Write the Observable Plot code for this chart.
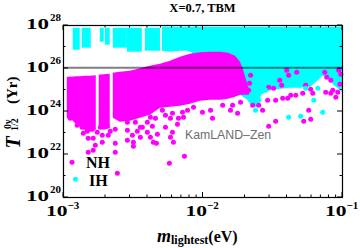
<!DOCTYPE html>
<html><head><meta charset="utf-8">
<script src="https://cdn.jsdelivr.net/npm/d3@7"></script>
<script src="https://cdn.jsdelivr.net/npm/@observablehq/plot@0.6"></script>
<style>html,body{margin:0;padding:0;background:#fff} svg{display:block}</style>
</head><body><div id="chart"></div>
<script>
// ---- values (log10 of m_lightest [eV] and of T_1/2 [yr]) ----
const title = "X=0.7, TBM";
const kamlandBound = 1.07e26;
const kamlandLabel = "KamLAND\u2013Zen";

// IH: separated columns of points on the left
const ihStripeLogM1 = [-2.930, -2.866, -2.736, -2.700, -2.643, -2.542, -2.413];
const ihStripeLogM2 = [-2.880, -2.801, -2.708, -2.665, -2.542, -2.435, -2.305];
const ihStripeLogTop = [27.874, 27.874, 27.874, 27.874, 27.874, 27.874, 27.874];
const ihStripeLogBottom = [26.851, 26.944, 27.223, 27.084, 26.944, 26.758, 26.805];

// IH: dense band (upper/lower envelope)
const ihBandLogM = [-2.291, -2.233, -2.162, -2.104, -2.075, -2.047, -1.731, -1.680, -1.644, -1.601, -1.580, -1.544, -1.501, -1.443, -1.371, -1.300, -1.228, -1.185, -1.142, -1.098, -1.062, -1.034, -1.0];
const ihBandLogTop = [27.921, 27.921, 27.921, 27.921, 27.921, 27.921, 27.921, 27.921, 27.921, 27.921, 27.921, 27.921, 27.921, 27.921, 27.921, 27.921, 27.921, 27.921, 27.921, 27.921, 27.921, 27.921, 27.921];
const ihBandLogBottom = [26.805, 26.758, 26.805, 26.805, 26.712, 24.758, 24.758, 24.526, 24.200, 24.200, 24.758, 24.898, 24.991, 25.037, 25.084, 25.084, 25.130, 25.363, 25.642, 25.549, 25.223, 25.084, 24.898];

// NH: dense band (null = empty column)
const nhBandLogM = [-2.973, -2.9375, -2.909, -2.880, -2.844, -2.808, -2.765, -2.752, -2.744, -2.708, -2.665, -2.650, -2.643, -2.593, -2.521, -2.449, -2.377, -2.305, -2.233, -2.162, -2.090, -2.018, -1.946, -1.874, -1.817, -1.767, -1.731, -1.709, -1.688, -1.666];
const nhBandLogTop = [25.595, 25.595, 25.619, 25.619, 25.642, 25.642, 25.665, null, 25.688, 25.712, 25.735, null, 25.781, 25.828, 25.875, 25.991, 26.107, 26.200, 26.340, 26.526, 26.665, 26.735, 26.758, 26.758, 26.712, 26.572, 26.293, 25.921, 25.456, 24.991];
const nhBandLogBottom = [23.689, 23.595, 23.409, 23.270, 23.130, 23.037, 23.130, null, 23.223, 23.130, 23.223, null, 23.689, 23.502, 23.549, 23.689, 23.828, 24.154, 24.200, 24.247, 24.340, 24.479, 24.526, 24.526, 24.572, 24.665, 24.758, 24.758, 24.758, 24.758];

// NH: scattered points
const nhDotLogM = [-2.952, -2.902, -2.866, -2.858, -2.830, -2.823, -2.794, -2.823, -2.787, -2.772,
  -2.787, -2.758, -2.736, -2.722, -2.722, -2.686, -2.679, -2.665, -2.629, -2.629,
  -2.629, -2.614, -2.542, -2.542, -2.542, -2.506, -2.499, -2.499, -2.485, -2.471,
  -2.449, -2.449, -2.435, -2.399, -2.399, -2.377, -2.377, -2.363, -2.356, -2.334,
  -2.327, -2.341, -2.291, -2.269, -2.269, -2.233, -2.233, -2.219, -2.219, -2.212,
  -2.183, -2.176, -2.147, -2.140, -2.111, -2.068, -2.004, -1.946, -1.932, -1.859,
  -1.803, -1.788, -1.752, -1.731, -2.241, -2.133,
  -1.673, -1.644, -1.601, -1.573, -1.537, -1.479, -1.429, -1.393, -1.371, -1.479,
  -1.529, -1.335, -1.285, -1.213, -1.242, -1.228, -1.278, -1.120, -1.084, -1.048,
  -1.034, -1.070, -1.400, -1.386, -1.328, -1.450, -1.436, -1.529, -1.494, -1.264,
  -1.228, -1.127, -1.113, -1.084, -1.027, -1.012, -1.019, -1.659, -1.666];
const nhDotLogT = [23.689, 23.363, 23.270, 22.991, 23.084, 22.758, 23.177, 22.107, 22.200, 22.433,
  22.758, 23.037, 23.270, 22.572, 22.898, 23.316, 22.898, 23.084, 23.177, 22.526,
  22.107, 21.130, 22.665, 23.130, 23.502, 22.898, 22.572, 22.386, 23.502, 23.084,
  23.270, 22.805, 23.270, 23.037, 23.502, 23.735, 22.805, 23.316, 22.572, 22.526,
  22.944, 23.689, 24.061, 23.270, 23.828, 23.689, 22.805, 23.921, 23.037, 22.572,
  23.409, 23.689, 23.968, 23.735, 24.061, 24.200, 23.968, 24.061, 23.689, 24.293,
  24.061, 24.293, 23.921, 24.433, 21.596, 21.921,
  24.991, 24.293, 24.293, 24.061, 24.526, 24.526, 24.619, 24.619, 24.758, 23.549,
  23.316, 24.758, 24.851, 24.851, 24.061, 23.642, 23.549, 24.898, 24.851, 24.665,
  24.898, 24.991, 25.921, 25.688, 25.828, 25.456, 25.223, 25.130, 25.084, 25.223,
  25.037, 25.828, 25.595, 25.456, 25.921, 25.735, 25.270, 25.688, 25.316];

// IH: scattered points
const ihDotLogM = [-1.386, -1.300, -1.206, -1.142, -1.601, -1.623, -1.551, -1.264, -1.177, -1.623];
const ihDotLogT = [23.735, 23.782, 24.526, 23.968, 24.526, 24.758, 24.991, 25.084, 25.084, 24.061];

// axes
const xTickExp = [-3, -2, -1];
const xMinorMult = [2, 3, 4, 5, 6, 7, 8, 9];
const yTickExp = [20, 22, 24, 26, 28];
const yMinorExp = [21, 23, 25, 27];
const legendLabels = ["NH", "IH"];

// ---- tables ----
const p = v => (v == null ? NaN : 10 ** v);
const ihStripes = ihStripeLogM1.map((m, i) => ({m1: p(m), m2: p(ihStripeLogM2[i]), top: p(ihStripeLogTop[i]), bot: p(ihStripeLogBottom[i])}));
const ihBand = ihBandLogM.map((m, i) => ({m: p(m), top: p(ihBandLogTop[i]), bot: p(ihBandLogBottom[i])}));
const nhBand = nhBandLogM.map((m, i) => ({m: p(m), top: p(nhBandLogTop[i]), bot: p(nhBandLogBottom[i])}));
const nhDots = nhDotLogM.map((m, i) => ({m: p(m), t: p(nhDotLogT[i])}));
const ihDots = ihDotLogM.map((m, i) => ({m: p(m), t: p(ihDotLogT[i])}));

const MAG = "#ff00ff", CYA = "#00ffff";
const W = 360, H = 248, mT = 25, mB = 51, mL = 63, mR = 18;

const chart = Plot.plot({
  width: W, height: H,
  marginTop: mT, marginBottom: mB, marginLeft: mL, marginRight: mR,
  x: {type: "log", domain: [1e-3, 1e-1], axis: null},
  y: {type: "log", domain: [1e20, 1e28], axis: null},
  style: {background: "white", overflow: "visible"},
  marks: [
    Plot.rect(ihStripes, {x1: "m1", x2: "m2", y1: "bot", y2: "top", fill: CYA}),
    Plot.areaY(ihBand, {x: "m", y1: "bot", y2: "top", fill: CYA}),
    Plot.areaY(nhBand, {x: "m", y1: "bot", y2: "top", fill: MAG}),
    Plot.dot(nhDots, {x: "m", y: "t", r: 2.5, fill: MAG}),
    Plot.dot(ihDots, {x: "m", y: "t", r: 2.5, fill: CYA}),
    Plot.ruleY([kamlandBound], {stroke: "black", strokeOpacity: 0.5, strokeWidth: 2}),
    Plot.frame({stroke: "black", strokeWidth: 1.2})
  ]
});
document.getElementById("chart").appendChild(chart);

// ---- ticks, labels, legend ----
const sx = chart.scale("x"), sy = chart.scale("y");
const svg = d3.select(chart);
const g = svg.append("g").attr("stroke", "black").attr("stroke-width", 1);
const x0 = mL, x1 = W - mR, y0 = mT, y1 = H - mB;
function tx(v, len) {
  const X = sx.apply(v);
  g.append("line").attr("x1", X).attr("x2", X).attr("y1", y1).attr("y2", y1 - len);
  g.append("line").attr("x1", X).attr("x2", X).attr("y1", y0).attr("y2", y0 + len);
}
function ty(v, len) {
  const Y = sy.apply(v);
  g.append("line").attr("y1", Y).attr("y2", Y).attr("x1", x0).attr("x2", x0 + len);
  g.append("line").attr("y1", Y).attr("y2", Y).attr("x1", x1).attr("x2", x1 - len);
}
xTickExp.forEach(e => tx(10 ** e, 5));
xTickExp.slice(0, -1).forEach(e => xMinorMult.forEach(k => tx(k * 10 ** e, 2.5)));
yTickExp.forEach(e => ty(10 ** e, 5));
yMinorExp.forEach(e => ty(10 ** e, 2.5));

const serif = "'Liberation Serif','Times New Roman',serif";
const t = svg.append("g").attr("font-family", serif).attr("font-weight", "bold")
  .attr("fill", "black").attr("text-anchor", "start");
const minus = n => (n < 0 ? "\u2212" + (-n) : String(n));
yTickExp.forEach(e => {
  const Y = sy.apply(10 ** e);
  t.append("text").attr("x", 26).attr("y", Y + 4.3).attr("font-size", 15)
    .attr("textLength", 23).attr("lengthAdjust", "spacingAndGlyphs").text("10");
  t.append("text").attr("x", 50).attr("y", Y - 3.8).attr("font-size", 11).text(minus(e));
});
xTickExp.forEach(e => {
  const X = sx.apply(10 ** e);
  t.append("text").attr("x", X - 17).attr("y", 215.5).attr("font-size", 15)
    .attr("textLength", 21.5).attr("lengthAdjust", "spacingAndGlyphs").text("10");
  t.append("text").attr("x", X + 4.5).attr("y", 209).attr("font-size", 11).text(minus(e));
});

// title
t.append("text").attr("x", (x0 + x1) / 2).attr("y", 11.7).attr("text-anchor", "middle")
  .attr("font-size", 12.5).text(title);

// x label
const xl = t.append("text").attr("x", 157).attr("y", 241.5);
xl.append("tspan").attr("font-style", "italic").attr("font-size", 18).text("m");
xl.append("tspan").attr("font-size", 12).attr("dy", 2.5).text("lightest");
xl.append("tspan").attr("font-size", 16).attr("dy", -2.5).text("(eV)");

// y label (rotated)
function rot(x, y, s, size, italic) {
  const el = t.append("text").attr("transform", `translate(${x},${y}) rotate(-90)`)
    .attr("font-size", size).text(s);
  if (italic) el.attr("font-style", "italic");
}
rot(20, 148.5, "T", 20, true);
rot(17.5, 131, "1/2", 10, false);
rot(11, 129, "0\u03bd", 10, false);
rot(16.5, 104, "(Yr)", 15, false);

// legend
svg.append("circle").attr("cx", 72).attr("cy", 162.3).attr("r", 2.5).attr("fill", MAG);
svg.append("circle").attr("cx", 75.5).attr("cy", 179.3).attr("r", 2.5).attr("fill", CYA);
t.append("text").attr("x", 86).attr("y", 167.5).attr("font-size", 16).text(legendLabels[0]);
t.append("text").attr("x", 89).attr("y", 185.5).attr("font-size", 16).text(legendLabels[1]);

// KamLAND-Zen label
svg.append("text").attr("x", 185).attr("y", 139).attr("text-anchor", "start")
  .attr("font-family", "'Liberation Sans',Arial,sans-serif")
  .attr("font-size", 12.3).attr("fill", "#6e6e6e").text(kamlandLabel);
</script>
</body></html>
